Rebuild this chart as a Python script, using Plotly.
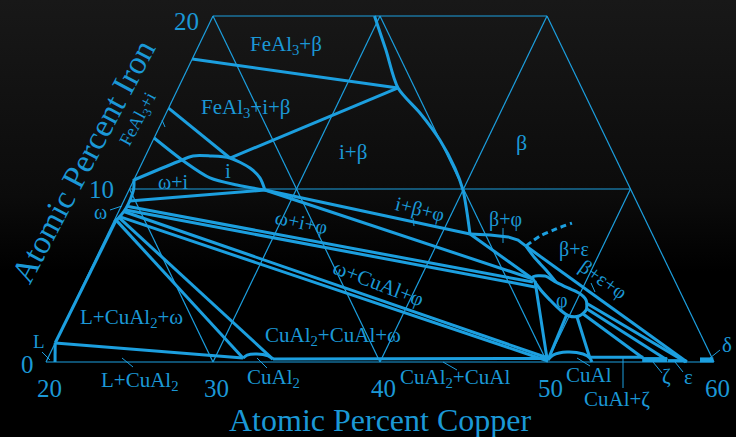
import base64
import plotly.graph_objects as go

W, H = 736, 437
LINE = "#1c9fdf"
TEXT = "#1b98d6"
FONT = "Liberation Serif"

# axis ticks (at.% Cu along the base, at.% Fe along the left edge)
CU_TICKS = [20, 30, 40, 50, 60]
FE_TICKS = [0, 10, 20]
AL_LEVELS = [70, 60, 50, 40]

# ---- phase boundaries: (Cu at.%, Fe at.%) ----
feal3_beta_tie = ([20.0, 33.16], [17.51, 15.84])
feal3_i_beta_side = ([33.16, 25.12], [15.84, 11.79])
feal3_i_tie = ([20.0, 25.12], [14.68, 11.79])
feal3_i_lower = ([20.0, 22.54, 24.50, 26.32, 28.14], [12.95, 11.56, 10.64, 10.23, 9.94])
i_upper = ([20.0, 22.06, 22.85, 23.87, 25.12, 26.61, 27.49, 28.14],
           [10.52, 11.56, 11.91, 11.91, 11.79, 11.21, 10.64, 9.94])
omega_phase = ([19.98, 20.25, 20.35, 20.35, 20.25, 20.05], [10.58, 10.0, 9.4, 8.9, 8.5, 8.1])
omega_i_tie = ([20.35, 28.14], [9.3, 9.94])
i_beta_tie = ([28.14, 41.69], [9.94, 7.40])
i_phi_tie = ([28.14, 46.76], [9.94, 4.80])
beta_phi_tie = ([41.69, 46.76], [7.40, 4.80])
omega_phi_upper = ([20.35, 46.85], [9.0, 4.62])
omega_phi_lower = ([20.3, 47.11], [8.8, 4.34])
omega_cual_upper = ([20.3, 49.94], [8.7, 0.23])
omega_cual_lower = ([20.2, 50.03], [8.4, 0.06])
omega_cual2_left = ([20.1, 31.68], [8.2, 0.23])
omega_cual2_right = ([20.2, 33.50], [8.35, 0.17])
liquid_omega = ([20.0, 20.1], [1.1, 8.2])
liquid_edge = ([20.54, 20.0], [0.0, 1.1])
liquid_cual2 = ([20.0, 31.68], [1.1, 0.23])
cual2_phase = ([31.68, 31.84, 32.40, 33.12, 33.50], [0.23, 0.40, 0.46, 0.35, 0.17])
cual2_cual_tie = ([33.50, 49.94], [0.17, 0.20])
cual_phase = ([50.0, 50.16, 50.91, 51.93, 52.45, 52.69], [0.12, 0.40, 0.58, 0.46, 0.23, 0.0])
cual_zeta_tie = ([52.45, 55.63], [0.27, 0.27])
zeta_phase = ([55.63, 57.13], [0.14, 0.14])
eps_phase = ([57.2, 58.3], [0.08, 0.08])
delta_phase = ([59.1, 59.9], [0.12, 0.12])
beta_upper = ([29.67, 31.34, 33.16, 35.20, 37.17, 38.88, 40.0, 40.87, 41.69],
              [20.0, 18.03, 15.84, 14.39, 12.83, 11.21, 9.94, 8.67, 7.40])
beta_lower = ([41.69, 42.92, 44.06, 44.74, 45.39], [7.40, 7.34, 7.23, 7.05, 6.70])
beta_dashed = ([45.39, 45.94, 46.70, 47.48], [6.70, 7.28, 7.69, 8.03])
beta_phi_side = ([45.39, 46.27, 47.28, 48.23], [6.70, 6.01, 5.32, 4.62])
phi_phase = ([46.70, 47.39, 48.23, 49.12, 49.92, 50.55, 50.84, 50.59, 49.99, 49.28, 48.39, 47.47, 46.70],
             [4.91, 4.97, 4.62, 4.28, 3.99, 3.58, 3.01, 2.66, 2.66, 3.01, 3.58, 4.22, 4.91])
beta_eps_tie = ([45.39, 58.38], [6.70, 0.0])
phi_eps_tie = ([50.64, 58.3], [3.41, 0.0])
phi_zeta_right = ([50.87, 57.13], [3.06, 0.12])
phi_zeta_left = ([50.78, 55.63], [2.77, 0.23])
phi_cual_right = ([50.50, 52.45], [2.60, 0.23])
phi_cual_left = ([49.81, 50.0], [2.77, 0.12])
phi_tip_cual = ([46.94, 49.88], [4.68, 0.23])

straight = [feal3_beta_tie, feal3_i_beta_side, feal3_i_tie, omega_i_tie, i_beta_tie, i_phi_tie,
            beta_phi_tie, omega_phi_upper, omega_phi_lower, omega_cual_upper, omega_cual_lower,
            omega_cual2_left, omega_cual2_right, liquid_omega, liquid_edge, liquid_cual2,
            cual2_cual_tie, cual_zeta_tie, beta_lower, beta_eps_tie, phi_eps_tie,
            phi_zeta_right, phi_zeta_left, phi_cual_right, phi_cual_left, phi_tip_cual]
curved = [feal3_i_lower, i_upper, omega_phase, cual2_phase, cual_phase, beta_upper,
          beta_phi_side, phi_phase]


def skew(cu, fe):
    """Gibbs-triangle abscissa: constant-Cu lines lean with the Fe edge."""
    return [c + 0.5 * f for c, f in zip(cu, fe)]


fig = go.Figure()


def add_line(cu, fe, width=3.0, shape="linear", dash="solid"):
    fig.add_trace(go.Scatter(x=skew(cu, fe), y=fe, mode="lines",
                             line=dict(color=LINE, width=width, shape=shape, dash=dash,
                                       smoothing=0.8 if shape == "spline" else None),
                             hoverinfo="skip", showlegend=False))


# composition grid (10 at.% triangles)
for f in FE_TICKS:
    add_line([CU_TICKS[0], 60 - f], [f, f], width=1.2)
for c in CU_TICKS[:-1]:
    top = min(20, 60 - c)
    add_line([c, c], [0, top], width=1.2)
for a in AL_LEVELS:
    s = 100 - a
    top = min(20, s - 20)
    add_line([s, s - top], [0, top], width=1.2)

for cu, fe in straight:
    add_line(cu, fe)
for cu, fe in curved:
    add_line(cu, fe, shape="spline")
add_line(*beta_dashed, dash="6px,4px", shape="spline")
add_line(*zeta_phase, width=5)
add_line(*eps_phase, width=3)
add_line(*delta_phase, width=5)


def P(px, py):
    return px / W, 1 - py / H


annotations = []


def label(text, px, py, size=21, angle=0):
    x, y = P(px, py)
    annotations.append(dict(text=text, x=x, y=y, xref="paper", yref="paper", showarrow=False,
                            xanchor="center", yanchor="middle", textangle=angle,
                            font=dict(family=FONT, size=size, color=TEXT)))


# tick labels tied to the composition axes
for c in CU_TICKS:
    annotations.append(dict(text=str(c), x=c, y=0, xref="x", yref="y", showarrow=False,
                            xanchor="center", yanchor="middle", xshift=3, yshift=-26,
                            font=dict(family=FONT, size=25, color=TEXT)))
for f, dx, dy in [(0, -19, -2), (10, -28, 0), (20, -27, -5)]:
    annotations.append(dict(text=str(f), x=20 + 0.5 * f, y=f, xref="x", yref="y", showarrow=False,
                            xanchor="center", yanchor="middle", xshift=dx, yshift=dy,
                            font=dict(family=FONT, size=25, color=TEXT)))

label("Atomic Percent Copper", 380, 420, 32)
label("Atomic Percent Iron", 83, 162, 33, -62)

label("FeAl<sub>3</sub>+β", 286, 45)
label("FeAl<sub>3</sub>+i+β", 246, 108)
label("i+β", 353, 152)
label("β", 521, 143, 22)
label("i", 228, 171)
label("ω+i", 173, 182, 20)
label("FeAl<sub>3</sub>+i", 138, 120, 18, -62)
label("ω", 100, 212, 20)
label("ω+i+φ", 301, 222, 20, 12)
label("i+β+φ", 420, 209, 20, 14)
label("β+φ", 505, 219, 20)
label("ω+CuAl+φ", 378, 283, 21, 21)
label("β+ε", 574, 249, 20)
label("β+ε+φ", 603, 279, 20, 35)
label("φ", 562, 300, 20)
label("CuAl<sub>2</sub>+CuAl+ω", 333, 336)
label("L+CuAl<sub>2</sub>+ω", 131, 318)
label("L", 39, 341, 19)
label("L+CuAl<sub>2</sub>", 140, 381)
label("CuAl<sub>2</sub>", 273, 378)
label("CuAl<sub>2</sub>+CuAl", 455, 378)
label("CuAl", 589, 375)
label("CuAl+ζ", 617, 399)
label("ζ", 666, 376)
label("ε", 688, 377)
label("δ", 727, 345)

# short leader ticks from labels to their fields
leaders = [((110, 210), (122, 206)), ((42, 352), (50, 360)), ((122, 358), (133, 367)),
           ((257, 358), (267, 368)), ((443, 362), (457, 370)), ((577, 358), (590, 366)),
           ((623, 358), (623, 388)), ((653, 362), (662, 373)), ((675, 362), (683, 372)),
           ((710, 358), (720, 350)), ((413, 218), (414, 226)), ((503, 228), (503, 243)),
           ((162, 120), (165, 127)), ((591, 283), (595, 292))]
shapes = []
for (a, b) in leaders:
    x0, y0 = P(*a)
    x1, y1 = P(*b)
    shapes.append(dict(type="line", xref="paper", yref="paper", x0=x0, y0=y0, x1=x1, y1=y1,
                       line=dict(color=LINE, width=1)))

svg = (f'<svg xmlns="http://www.w3.org/2000/svg" width="{W}" height="{H}">'
       '<defs><linearGradient id="g" x1="0" y1="0" x2="0" y2="1">'
       '<stop offset="0" stop-color="#181818"/><stop offset="0.45" stop-color="#0b0b0b"/>'
       '<stop offset="0.62" stop-color="#000000"/><stop offset="1" stop-color="#000000"/>'
       '</linearGradient></defs><rect width="100%" height="100%" fill="url(#g)"/></svg>')
bg = "data:image/svg+xml;base64," + base64.b64encode(svg.encode()).decode()

fig.update_layout(
    width=W, height=H, margin=dict(l=0, r=0, t=0, b=0, pad=0),
    paper_bgcolor="#000000", plot_bgcolor="rgba(0,0,0,0)",
    xaxis=dict(range=[20 - 46 / 16.7, 20 + 690 / 16.7], visible=False, fixedrange=True),
    yaxis=dict(range=[-75 / 17.3, 362 / 17.3], visible=False, fixedrange=True),
    images=[dict(source=bg, xref="paper", yref="paper", x=0, y=1, sizex=1, sizey=1,
                 sizing="stretch", layer="below")],
    annotations=annotations, shapes=shapes,
)

fig.write_html("out.html")
